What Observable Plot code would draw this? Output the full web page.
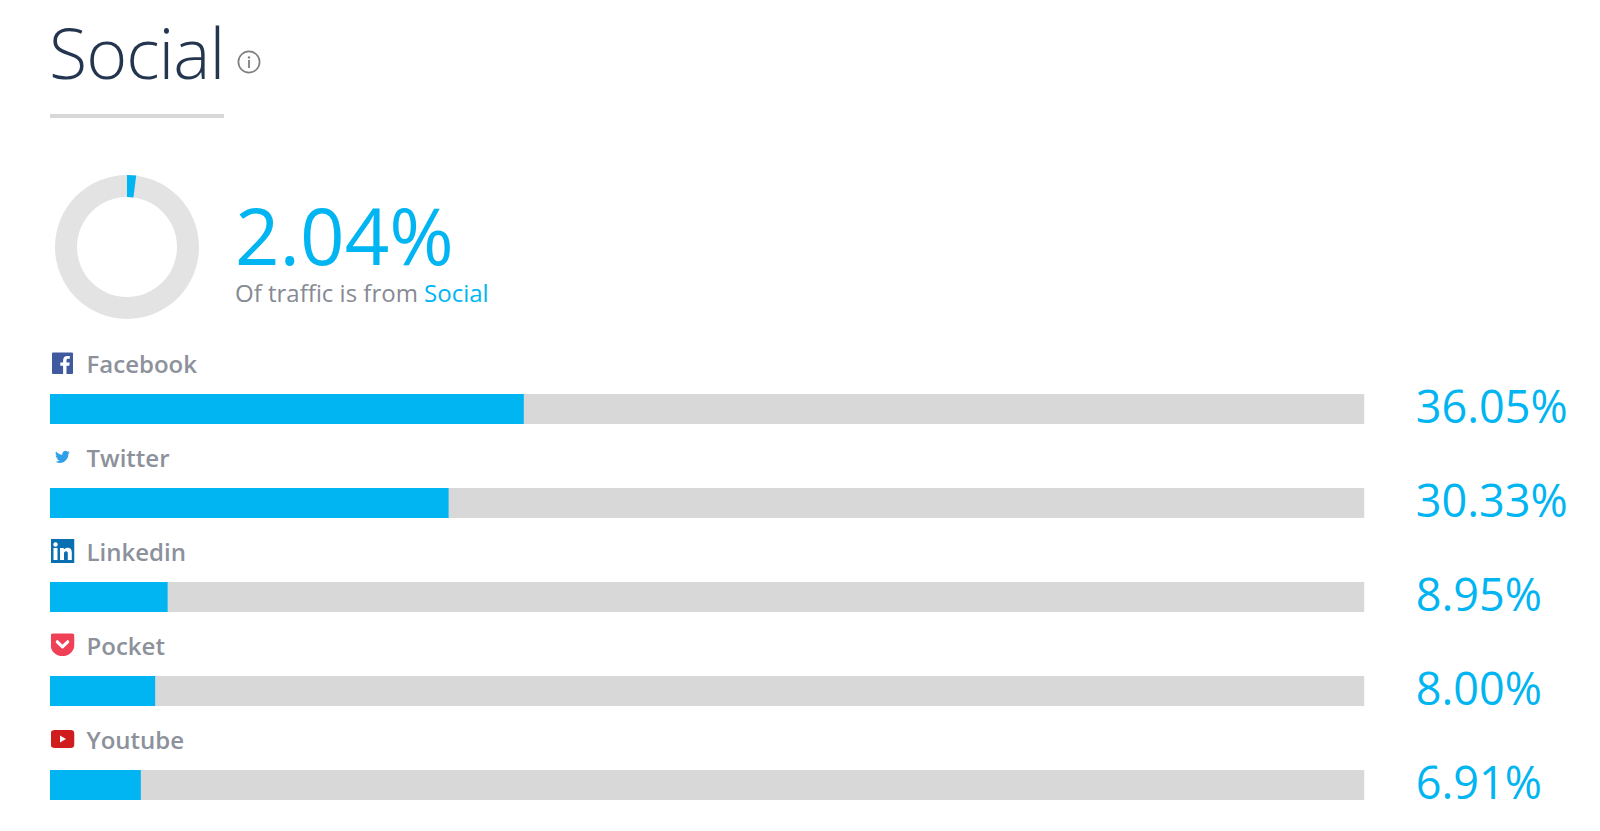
<!DOCTYPE html>
<html>
<head>
<meta charset="utf-8">
<script src="https://cdn.jsdelivr.net/npm/d3@7"></script>
<script src="https://cdn.jsdelivr.net/npm/@observablehq/plot@0.6"></script>
<style>
html,body{margin:0;padding:0;background:#fff;width:1600px;height:831px;overflow:hidden;font-family:"Open Sans",sans-serif}
#head{position:relative;width:1600px;height:330px}
#head>*{position:absolute;white-space:nowrap;line-height:1}
#title{left:49px;top:17px;font-size:70px;font-weight:300;color:#24364f;letter-spacing:-1px}
#info{left:237px;top:50px}
#rule{left:50px;top:114px;width:174px;height:4px;background:#d8d8d8}
#big{left:235px;top:204px;font-size:78px;font-weight:400;color:#00b5f1;line-height:.8}
#sub{left:235px;top:281px;font-size:24px;color:#858a93}
#sub span{color:#00b5f1}
#donut{left:46.5px;top:167px}
#chart svg,#donut svg{display:block}
</style>
</head>
<body>
<div id="head">
  <div id="title">Social</div>
  <svg id="info" width="24" height="24" viewBox="0 0 24 24"><circle cx="12" cy="12" r="10.6" fill="none" stroke="#7f7f7f" stroke-width="1.7"/><circle cx="12" cy="7.4" r="1.2" fill="#7f7f7f"/><rect x="11.1" y="10" width="1.8" height="8" fill="#7f7f7f"/></svg>
  <div id="rule"></div>
  <div id="donut"></div>
  <div id="big"></div>
  <div id="sub">Of traffic is from <span>Social</span></div>
</div>
<div id="chart"></div>
<script>
const overallShare = 2.04;
const platforms = ["Facebook", "Twitter", "Linkedin", "Pocket", "Youtube"];
const shares = [36.05, 30.33, 8.95, 8.00, 6.91];
const shareLabels = ["36.05%", "30.33%", "8.95%", "8.00%", "6.91%"];

const svgUri = s => "data:image/svg+xml," + encodeURIComponent(`<svg xmlns="http://www.w3.org/2000/svg" viewBox="0 0 24 24" width="24" height="24">${s}</svg>`);
const icons = [
  svgUri(`<rect x="1.5" y="1.5" width="21" height="21.5" rx="1" fill="#3f5a9e"/><path d="M16 23v-8.3h2.8l.4-3.2H16V9.4c0-.9.3-1.6 1.6-1.6h1.7V5c-.3 0-1.300-.1-2.500-.1-2.500 0-4.200 1.500-4.200 4.300v2.300H9.800v3.200h2.800V23z" fill="#fff"/>`),
  svgUri(`<g transform="translate(4.500 4.500) scale(.62)"><path d="M23.950 4.570a10 10 0 0 1-2.820.770 4.960 4.960 0 0 0 2.160-2.720c-.950.550-2 .960-3.130 1.190a4.920 4.920 0 0 0-8.380 4.480C7.690 8.090 4.070 6.130 1.640 3.160a4.820 4.820 0 0 0-.660 2.470c0 1.710.870 3.210 2.190 4.100a4.900 4.900 0 0 1-2.230-.620v.060a4.920 4.920 0 0 0 3.950 4.830 5 5 0 0 1-2.210.080 4.940 4.940 0 0 0 4.600 3.420A9.870 9.870 0 0 1 0 19.540a14 14 0 0 0 7.560 2.210c9.050 0 14-7.500 14-13.980 0-.210 0-.420-.020-.630a9.940 9.940 0 0 0 2.410-2.570z" fill="#2f9fe8"/></g>`),
  svgUri(`<rect x="0" y="0" width="24" height="24" fill="#0a6fb0"/><rect x="3" y="9" width="4" height="12" fill="#fff"/><circle cx="5" cy="5.500" r="2.200" fill="#fff"/><path d="M9.500 9h3.800v1.700c.6-1 1.800-2 3.700-2 3.500 0 4.300 2.200 4.300 5.200V21h-4v-6.200c0-1.400-.3-2.600-1.800-2.600s-2 1.100-2 2.600V21h-4z" fill="#fff"/>`),
  svgUri(`<path d="M2.500 .5h19A2.500 2.500 0 0 1 24 3v8.500a12 11.500 0 0 1-24 0V3A2.500 2.500 0 0 1 2.500 .5z" fill="#ef4056"/><path d="M6.800 8.800 12 13.800l5.200-5" fill="none" stroke="#fff" stroke-width="3.200" stroke-linecap="round" stroke-linejoin="round"/>`),
  svgUri(`<rect x="0" y="3" width="24" height="18" rx="4" fill="#cf1c1c"/><path d="M9.500 8.500v7l6-3.500z" fill="#fff"/>`)
];

const rows = platforms.map((name, i) => ({name, share: shares[i], label: shareLabels[i], icon: icons[i]}));
const font = '"Open Sans", sans-serif';

document.getElementById("big").textContent = overallShare.toFixed(2) + "%";

// Donut: the x scale maps a percentage to an angle
const ringArc = d3.arc();
const donut = Plot.plot({
  width: 160, height: 160, margin: 0,
  x: {domain: [0, 100], range: [0, 2 * Math.PI], axis: null},
  marks: [
    (index, {x}, values, {width, height}) => {
      const ns = "http://www.w3.org/2000/svg";
      const g = document.createElementNS(ns, "g");
      g.setAttribute("transform", `translate(${width / 2},${height / 2})`);
      [[0, 100, "#e3e3e3"], [0, overallShare, "#00b5f1"]].forEach(([a, b, fill]) => {
        const p = document.createElementNS(ns, "path");
        p.setAttribute("d", ringArc({innerRadius: 50, outerRadius: 72, startAngle: x(a), endAngle: x(b)}));
        p.setAttribute("fill", fill);
        g.appendChild(p);
      });
      return g;
    }
  ]
});
document.getElementById("donut").appendChild(donut);

const chart = Plot.plot({
  width: 1600, height: 501, margin: 0,
  style: {background: "transparent"},
  x: {domain: [0, 100], range: [50, 1364.2], axis: null},
  y: {domain: platforms, range: [63.5, 469.5], paddingInner: 64 / 94, paddingOuter: 0, axis: null},
  marks: [
    Plot.barX(rows, {x: () => 100, y: "name", fill: "#d8d8d8"}),
    Plot.barX(rows, {x: "share", y: "name", fill: "#00b5f1"}),
    Plot.image(rows, {x: () => 0, y: "name", src: "icon", width: 24, height: 24, dx: 12, dy: -46.500}),
    Plot.text(rows, {x: () => 0, y: "name", text: "name", textAnchor: "start", dx: 36, dy: -44.500,
      fontSize: 24, fontWeight: 600, fontFamily: font, fill: "#8c919b"}),
    Plot.text(rows, {x: () => 100, y: "name", text: "label", textAnchor: "start", dx: 51, dy: -0.500,
      fontSize: 45, fontWeight: 400, fontFamily: font, fill: "#00b5f1"})
  ]
});
document.getElementById("chart").appendChild(chart);
</script>
</body>
</html>
